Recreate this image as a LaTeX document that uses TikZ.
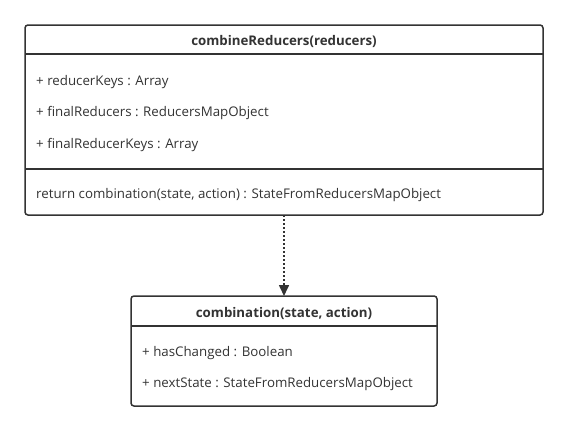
\documentclass[tikz,border=0pt]{standalone}
\usepackage{fontspec}
\setmainfont{Open Sans}
\usetikzlibrary{arrows.meta}
\definecolor{ln}{HTML}{333333}
\definecolor{tx}{HTML}{333333}
\tikzset{
  umlbox/.style={draw=ln, line width=1.5pt, rounded corners=3pt, fill=white},
  divider/.style={draw=ln, line width=1.5pt},
  title/.style={font=\fontsize{13.3}{15}\selectfont\bfseries, text=tx, inner sep=0pt},
  attr/.style={font=\fontsize{13.3}{15}\selectfont, text=tx, anchor=west, inner sep=0pt},
  dep/.style={draw=ln, line width=1.6pt, dash pattern=on 2pt off 2pt, -{Triangle[length=11pt,width=10pt]}}
}
\begin{document}
\begin{tikzpicture}[x=1pt,y=-1pt]
\useasboundingbox (0,0) rectangle (568,431);
% box 1
\draw[umlbox] (25,25) rectangle (543,215);
\coordinate (b1top) at (284,215);
\draw[divider] (25,54) -- (543,54);
\draw[divider] (25,169) -- (543,169);
\node[title] (t1) at (284,41.5) {combineReducers(reducers)};
\node[attr] (a1) at (36,82.5) {+ reducerKeys : Array};
\node[attr] (a2) at (36,113.5) {+ finalReducers : ReducersMapObject};
\node[attr] (a3) at (36,145.5) {+ finalReducerKeys : Array};
\node[attr] (m1) at (36,195.5) {return combination(state, action) : StateFromReducersMapObject};
% box 2
\draw[umlbox] (131,296) rectangle (437,406);
\coordinate (b2top) at (284,296);
\draw[divider] (131,326) -- (437,326);
\node[title] (t2) at (284,313.5) {combination(state, action)};
\node[attr] (c1) at (142,353.5) {+ hasChanged : Boolean};
\node[attr] (c2) at (142,384.5) {+ nextState : StateFromReducersMapObject};
% dependency
\draw[dep] (b1top) -- (b2top);
\end{tikzpicture}
\end{document}
